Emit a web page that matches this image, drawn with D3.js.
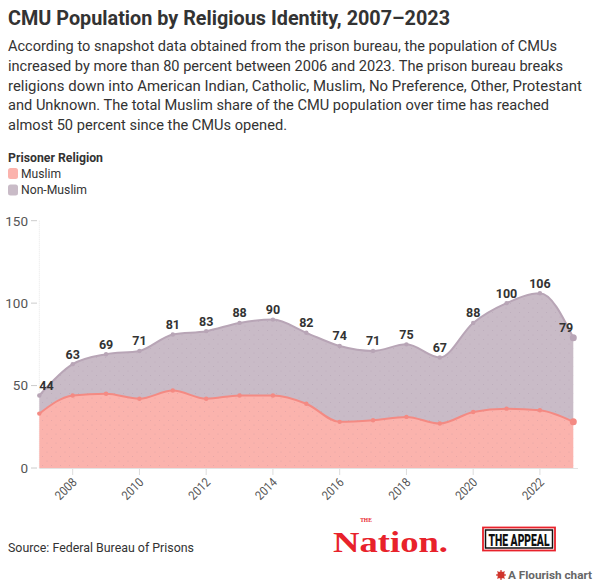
<!DOCTYPE html>
<html>
<head>
<meta charset="utf-8">
<script src="https://cdn.jsdelivr.net/npm/d3@7"></script>
<style>
  html, body { margin: 0; padding: 0; background: #fff; }
  svg { display: block; font-family: Roboto, "Noto Sans", sans-serif; }
</style>
</head>
<body>
<svg id="chart" width="598" height="585"></svg>
<script>
// ---- data ----
const years = [2007,2008,2009,2010,2011,2012,2013,2014,2015,2016,2017,2018,2019,2020,2021,2022,2023];
const muslim = [33,44,45,42,47,42,44,44,39,28,29,31,27,34,36,35,28];
const nonMuslim = [11,19,24,29,34,41,44,46,43,46,42,44,40,54,64,71,51];
const seriesNames = ["Muslim", "Non-Muslim"];
const yTicks = [0, 50, 100, 150];
const xTicks = [2008,2010,2012,2014,2016,2018,2020,2022];
const titleText = "CMU Population by Religious Identity, 2007\u20132023";
const subtitleLines = [
  "According to snapshot data obtained from the prison bureau, the population of CMUs",
  "increased by more than 80 percent between 2006 and 2023. The prison bureau breaks",
  "religions down into American Indian, Catholic, Muslim, No Preference, Other, Protestant",
  "and Unknown. The total Muslim share of the CMU population over time has reached",
  "almost 50 percent since the CMUs opened."
];
const subtitleWidths = [549, 555, 574, 541, 279];
const legendTitle = "Prisoner Religion";
const sourceText = "Source: Federal Bureau of Prisons";

// ---- styles ----
const fills = {"Muslim": "#fbb3ad", "Non-Muslim": "#c9bbc7"};
const strokes = {"Muslim": "#f48a83", "Non-Muslim": "#b8a5b6"};

const svg = d3.select("#chart");

// title & subtitle
svg.append("text").attr("x", 8).attr("y", 25)
  .attr("font-size", 21).attr("font-weight", 700).attr("fill", "#333")
  .attr("textLength", 442).attr("lengthAdjust", "spacingAndGlyphs")
  .text(titleText);
subtitleLines.forEach((t, i) => {
  svg.append("text").attr("x", 8).attr("y", 51 + i * 19.8)
    .attr("font-size", 14.5).attr("fill", "#333")
    .attr("textLength", subtitleWidths[i]).attr("lengthAdjust", "spacingAndGlyphs")
    .text(t);
});

// legend
svg.append("text").attr("x", 8).attr("y", 161.5)
  .attr("font-size", 12.5).attr("font-weight", 700).attr("fill", "#333")
  .attr("textLength", 95).attr("lengthAdjust", "spacingAndGlyphs")
  .text(legendTitle);
seriesNames.forEach((name, i) => {
  const y0 = 168 + i * 16.5;
  svg.append("rect").attr("x", 8).attr("y", y0).attr("width", 10).attr("height", 11)
    .attr("rx", 2.5).attr("fill", fills[name]);
  svg.append("text").attr("x", 21).attr("y", y0 + 9.5)
    .attr("font-size", 13).attr("fill", "#333")
    .attr("textLength", name === "Muslim" ? 40 : 66).attr("lengthAdjust", "spacingAndGlyphs")
    .text(name);
});

// scales
const x = d3.scaleLinear().domain([2007, 2023]).range([39.3, 573.3]);
const y = d3.scaleLinear().domain([0, 150]).range([468, 220.7]);

// pattern texture
const defs = svg.append("defs");
const pat = defs.append("pattern").attr("id", "dots").attr("patternUnits", "userSpaceOnUse")
  .attr("width", 9).attr("height", 9);
pat.append("circle").attr("cx", 2).attr("cy", 2).attr("r", 0.6).attr("fill", "rgba(140,110,140,0.25)");
pat.append("circle").attr("cx", 6.5).attr("cy", 6.5).attr("r", 0.6).attr("fill", "rgba(140,110,140,0.2)");

// y axis
const gy = svg.append("g");
gy.append("line").attr("x1", 39.3).attr("x2", 39.3).attr("y1", y(150)).attr("y2", y(0))
  .attr("stroke", "#e6e6e6").attr("stroke-width", 1).attr("stroke-dasharray", "1,1");
yTicks.forEach(v => {
  gy.append("line").attr("x1", 31).attr("x2", 37).attr("y1", y(v)).attr("y2", y(v))
    .attr("stroke", "#ccc");
  gy.append("text").attr("x", 28).attr("y", y(v) + 4.8).attr("text-anchor", "end")
    .attr("font-size", 13.5).attr("fill", "#555").text(v);
});

// stack
const table = years.map((yr, i) => ({year: yr, "Muslim": muslim[i], "Non-Muslim": nonMuslim[i]}));
const stacked = d3.stack().keys(seriesNames)(table);

const area = d3.area().curve(d3.curveMonotoneX)
  .x(d => x(d.data.year)).y0(d => y(d[0])).y1(d => y(d[1]));
const line = d3.line().curve(d3.curveMonotoneX)
  .x(d => x(d.data.year)).y(d => y(d[1]));

stacked.forEach(s => {
  svg.append("path").datum(s).attr("d", area).attr("fill", fills[s.key]);
  svg.append("path").datum(s).attr("d", area).attr("fill", "url(#dots)");
});
stacked.forEach(s => {
  svg.append("path").datum(s).attr("d", line).attr("fill", "none")
    .attr("stroke", strokes[s.key]).attr("stroke-width", 2);
  svg.selectAll(null).data(s).enter().append("circle")
    .attr("cx", d => x(d.data.year)).attr("cy", d => y(d[1]))
    .attr("r", (d, i) => i === s.length - 1 ? 3.5 : 2.2)
    .attr("fill", strokes[s.key]);
});

// x axis
const gx = svg.append("g");
gx.append("line").attr("x1", 39.3).attr("x2", 578).attr("y1", 468.5).attr("y2", 468.5)
  .attr("stroke", "#e3e3e3");
xTicks.forEach(v => {
  gx.append("line").attr("x1", x(v)).attr("x2", x(v)).attr("y1", 469).attr("y2", 475)
    .attr("stroke", "#ddd");
  gx.append("text")
    .attr("transform", `translate(${x(v) + 5},${483}) rotate(-45)`)
    .attr("text-anchor", "end").attr("font-size", 12.5).attr("fill", "#555")
    .attr("textLength", 25).attr("lengthAdjust", "spacingAndGlyphs")
    .text(v);
});

// value labels (totals)
const topSeries = stacked[stacked.length - 1];
svg.selectAll(null).data(topSeries).enter().append("text")
  .attr("x", d => x(d.data.year))
  .attr("y", d => y(d[1]) - 5.5)
  .attr("text-anchor", (d, i) => i === 0 ? "start" : (i === topSeries.length - 1 ? "end" : "middle"))
  .attr("font-size", 12.5).attr("font-weight", 700).attr("fill", "#333")
  .text(d => d[1]);

// footer
svg.append("text").attr("x", 8).attr("y", 551.5)
  .attr("font-size", 13.5).attr("fill", "#333")
  .attr("textLength", 186).attr("lengthAdjust", "spacingAndGlyphs")
  .text(sourceText);

// The Nation logo
svg.append("text").attr("x", 366).attr("y", 521.5)
  .attr("font-family", "'Liberation Serif', serif")
  .attr("font-size", 5.5).attr("font-weight", 700).attr("fill", "#e8222b")
  .attr("text-anchor", "middle").text("THE");
svg.append("text").attr("x", 333).attr("y", 551.5)
  .attr("font-family", "'Liberation Serif', 'DejaVu Serif', serif")
  .attr("font-size", 30).attr("font-weight", 700).attr("fill", "#e8222b")
  .attr("textLength", 115).attr("lengthAdjust", "spacingAndGlyphs")
  .text("Nation.");

// The Appeal logo
svg.append("rect").attr("x", 483).attr("y", 527.5).attr("width", 72).attr("height", 23)
  .attr("fill", "#fff").attr("stroke", "#e8222b").attr("stroke-width", 1.8);
svg.append("rect").attr("x", 485.5).attr("y", 530).attr("width", 67).attr("height", 18)
  .attr("fill", "#fff").attr("stroke", "#111").attr("stroke-width", 1.5);
svg.append("text").attr("x", 519).attr("y", 545.5)
  .attr("text-anchor", "middle").attr("font-size", 16).attr("font-weight", 900).attr("fill", "#111")
  .attr("textLength", 61).attr("lengthAdjust", "spacingAndGlyphs")
  .text("THE APPEAL");

// Flourish credit
const fl = svg.append("g").attr("transform", "translate(501,575)");
fl.append("circle").attr("r", 3.6).attr("fill", "#d0342c");
for (let k = 0; k < 8; k++) {
  const a = k * Math.PI / 4;
  fl.append("line").attr("x1", 0).attr("y1", 0)
    .attr("x2", 5 * Math.cos(a)).attr("y2", 5 * Math.sin(a))
    .attr("stroke", "#d0342c").attr("stroke-width", 1.2);
}
svg.append("text").attr("x", 508).attr("y", 579)
  .attr("font-size", 11.5).attr("font-weight", 700).attr("fill", "#666")
  .attr("textLength", 84).attr("lengthAdjust", "spacingAndGlyphs")
  .text("A Flourish chart");
</script>
</body>
</html>
